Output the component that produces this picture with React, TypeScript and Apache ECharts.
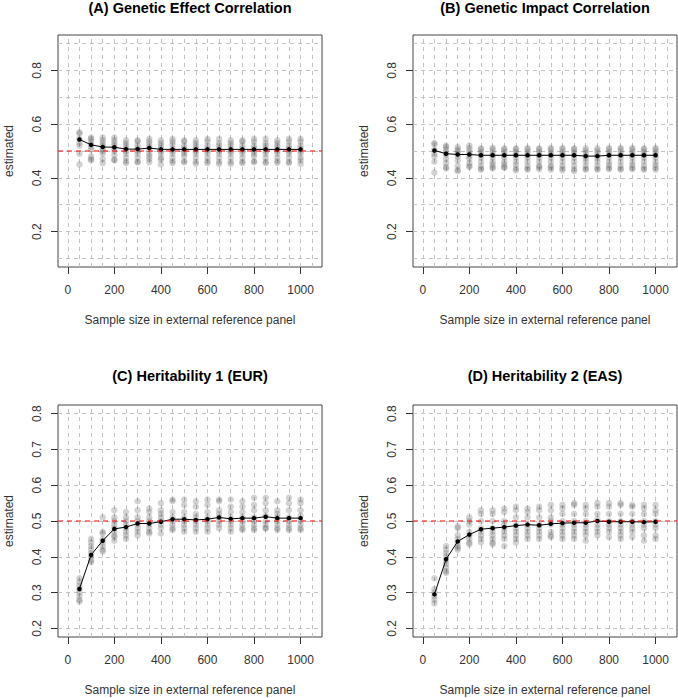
import React, { useEffect, useRef } from "react";
import * as echarts from "echarts";

const sampleSizes = [50, 100, 150, 200, 250, 300, 350, 400, 450, 500, 550, 600, 650, 700, 750, 800, 850, 900, 950, 1000];
const xTickLabels = [0, 200, 400, 600, 800, 1000];
const xGridLines = [0, 50, 100, 150, 200, 250, 300, 350, 400, 450, 500, 550, 600, 650, 700, 750, 800, 850, 900, 950, 1000, 1050];
const yTicksCorr = [0.2, 0.4, 0.6, 0.8];
const yGridCorr = [0.1, 0.2, 0.3, 0.4, 0.5, 0.6, 0.7, 0.8, 0.9];
const yTicksHer = [0.2, 0.3, 0.4, 0.5, 0.6, 0.7, 0.8];
const yGridHer = [0.2, 0.3, 0.4, 0.5, 0.6, 0.7, 0.8];
const panelTitles = [
  "(A) Genetic Effect Correlation",
  "(B) Genetic Impact Correlation",
  "(C) Heritability 1 (EUR)",
  "(D) Heritability 2 (EAS)",
];
const trueValues = [0.5, null, 0.5, 0.5];

const meanA = [0.543, 0.523, 0.515, 0.514, 0.507, 0.507, 0.511, 0.506, 0.506, 0.506, 0.506, 0.506, 0.506, 0.506, 0.506, 0.506, 0.506, 0.506, 0.506, 0.506];
const repsA = [
  [0.57, 0.565, 0.545, 0.53, 0.52, 0.49, 0.45],
  [0.55, 0.545, 0.535, 0.525, 0.515, 0.505, 0.48, 0.47, 0.465],
  [0.55, 0.54, 0.53, 0.52, 0.51, 0.5, 0.49, 0.47, 0.455],
  [0.55, 0.54, 0.53, 0.52, 0.51, 0.5, 0.485, 0.468, 0.465],
  [0.54, 0.53, 0.52, 0.51, 0.5, 0.49, 0.475, 0.462, 0.455],
  [0.54, 0.535, 0.52, 0.51, 0.5, 0.49, 0.475, 0.46, 0.458],
  [0.545, 0.535, 0.525, 0.515, 0.505, 0.49, 0.48, 0.47, 0.458],
  [0.54, 0.53, 0.52, 0.51, 0.5, 0.49, 0.475, 0.468, 0.45],
  [0.545, 0.535, 0.525, 0.51, 0.5, 0.49, 0.475, 0.462, 0.455],
  [0.54, 0.535, 0.52, 0.51, 0.5, 0.49, 0.48, 0.462, 0.458],
  [0.54, 0.53, 0.52, 0.51, 0.5, 0.49, 0.475, 0.46, 0.452],
  [0.545, 0.535, 0.52, 0.51, 0.5, 0.49, 0.475, 0.462, 0.455],
  [0.545, 0.53, 0.52, 0.51, 0.5, 0.49, 0.475, 0.46, 0.452],
  [0.54, 0.53, 0.52, 0.51, 0.5, 0.49, 0.475, 0.46, 0.452],
  [0.54, 0.535, 0.52, 0.51, 0.5, 0.49, 0.475, 0.46, 0.455],
  [0.545, 0.535, 0.52, 0.51, 0.5, 0.49, 0.48, 0.462, 0.458],
  [0.545, 0.53, 0.52, 0.51, 0.5, 0.49, 0.475, 0.46, 0.455],
  [0.54, 0.53, 0.52, 0.51, 0.5, 0.49, 0.475, 0.462, 0.456],
  [0.545, 0.535, 0.52, 0.51, 0.5, 0.49, 0.475, 0.46, 0.455],
  [0.545, 0.535, 0.52, 0.51, 0.5, 0.49, 0.475, 0.465, 0.452],
];

const meanB = [0.502, 0.49, 0.487, 0.487, 0.484, 0.484, 0.484, 0.484, 0.484, 0.484, 0.484, 0.484, 0.484, 0.481, 0.481, 0.484, 0.484, 0.484, 0.484, 0.484];
const repsB = [
  [0.53, 0.525, 0.505, 0.49, 0.48, 0.46, 0.42],
  [0.52, 0.515, 0.505, 0.495, 0.485, 0.47, 0.455, 0.44, 0.435],
  [0.515, 0.505, 0.5, 0.49, 0.48, 0.465, 0.445, 0.43, 0.425],
  [0.52, 0.51, 0.5, 0.49, 0.48, 0.47, 0.455, 0.445, 0.44],
  [0.51, 0.505, 0.495, 0.485, 0.475, 0.46, 0.445, 0.435, 0.43],
  [0.512, 0.505, 0.495, 0.485, 0.475, 0.46, 0.45, 0.44, 0.435],
  [0.51, 0.505, 0.495, 0.485, 0.475, 0.46, 0.45, 0.44, 0.438],
  [0.51, 0.505, 0.495, 0.485, 0.475, 0.46, 0.448, 0.435, 0.428],
  [0.512, 0.505, 0.495, 0.485, 0.475, 0.46, 0.445, 0.435, 0.43],
  [0.51, 0.505, 0.495, 0.485, 0.475, 0.46, 0.445, 0.44, 0.432],
  [0.512, 0.505, 0.495, 0.485, 0.475, 0.46, 0.445, 0.438, 0.43],
  [0.512, 0.505, 0.495, 0.485, 0.475, 0.46, 0.445, 0.435, 0.428],
  [0.51, 0.505, 0.495, 0.485, 0.475, 0.46, 0.445, 0.432, 0.425],
  [0.51, 0.502, 0.492, 0.482, 0.472, 0.46, 0.445, 0.435, 0.43],
  [0.51, 0.502, 0.492, 0.482, 0.472, 0.46, 0.445, 0.435, 0.43],
  [0.512, 0.505, 0.495, 0.485, 0.475, 0.46, 0.448, 0.438, 0.432],
  [0.512, 0.505, 0.495, 0.485, 0.475, 0.46, 0.445, 0.435, 0.43],
  [0.512, 0.505, 0.495, 0.485, 0.475, 0.46, 0.448, 0.438, 0.432],
  [0.51, 0.505, 0.495, 0.485, 0.475, 0.46, 0.445, 0.435, 0.43],
  [0.512, 0.505, 0.495, 0.485, 0.475, 0.46, 0.448, 0.438, 0.43],
];

const meanC = [0.31, 0.405, 0.445, 0.478, 0.483, 0.493, 0.493, 0.498, 0.505, 0.505, 0.503, 0.505, 0.51, 0.506, 0.508, 0.508, 0.512, 0.508, 0.508, 0.508];
const repsC = [
  [0.34, 0.33, 0.32, 0.31, 0.3, 0.29, 0.28, 0.275],
  [0.45, 0.44, 0.43, 0.42, 0.41, 0.4, 0.39, 0.385],
  [0.51, 0.47, 0.465, 0.45, 0.44, 0.43, 0.42, 0.415],
  [0.53, 0.51, 0.5, 0.49, 0.48, 0.47, 0.46, 0.455, 0.445],
  [0.525, 0.51, 0.5, 0.49, 0.48, 0.47, 0.46, 0.45],
  [0.555, 0.53, 0.51, 0.5, 0.49, 0.48, 0.47, 0.46],
  [0.535, 0.525, 0.51, 0.5, 0.49, 0.48, 0.47, 0.465],
  [0.55, 0.53, 0.52, 0.51, 0.5, 0.49, 0.48, 0.465],
  [0.56, 0.555, 0.525, 0.51, 0.5, 0.49, 0.48, 0.475],
  [0.56, 0.545, 0.525, 0.51, 0.5, 0.49, 0.48, 0.47],
  [0.555, 0.54, 0.52, 0.51, 0.5, 0.49, 0.48, 0.47],
  [0.56, 0.545, 0.525, 0.51, 0.5, 0.49, 0.48, 0.47],
  [0.56, 0.555, 0.53, 0.52, 0.51, 0.5, 0.49, 0.48],
  [0.56, 0.54, 0.525, 0.51, 0.5, 0.49, 0.48, 0.47],
  [0.555, 0.54, 0.525, 0.51, 0.5, 0.49, 0.48, 0.475],
  [0.565, 0.545, 0.53, 0.51, 0.5, 0.49, 0.48, 0.475],
  [0.565, 0.55, 0.53, 0.515, 0.5, 0.49, 0.48, 0.48],
  [0.555, 0.53, 0.52, 0.51, 0.5, 0.49, 0.48, 0.475],
  [0.565, 0.55, 0.53, 0.51, 0.5, 0.49, 0.48, 0.475],
  [0.56, 0.55, 0.53, 0.515, 0.5, 0.49, 0.48, 0.475],
];

const meanD = [0.295, 0.393, 0.443, 0.462, 0.477, 0.48, 0.483, 0.487, 0.49, 0.488, 0.492, 0.494, 0.495, 0.495, 0.5, 0.498, 0.498, 0.498, 0.497, 0.498];
const repsD = [
  [0.34, 0.31, 0.3, 0.29, 0.28, 0.27],
  [0.43, 0.42, 0.41, 0.4, 0.39, 0.38, 0.37, 0.36, 0.355],
  [0.485, 0.48, 0.46, 0.45, 0.44, 0.43, 0.425, 0.42],
  [0.51, 0.5, 0.49, 0.47, 0.46, 0.45, 0.44, 0.435],
  [0.53, 0.52, 0.5, 0.48, 0.47, 0.46, 0.45, 0.44],
  [0.53, 0.52, 0.5, 0.48, 0.47, 0.46, 0.45, 0.44, 0.435],
  [0.535, 0.525, 0.5, 0.49, 0.48, 0.47, 0.46, 0.45, 0.43],
  [0.54, 0.53, 0.51, 0.49, 0.48, 0.47, 0.46, 0.45, 0.44],
  [0.535, 0.525, 0.51, 0.49, 0.48, 0.47, 0.46, 0.45],
  [0.54, 0.53, 0.51, 0.49, 0.48, 0.47, 0.46, 0.45],
  [0.545, 0.53, 0.51, 0.5, 0.49, 0.47, 0.46, 0.455],
  [0.545, 0.535, 0.52, 0.5, 0.49, 0.48, 0.47, 0.46, 0.45],
  [0.55, 0.545, 0.52, 0.5, 0.49, 0.48, 0.47, 0.46, 0.45],
  [0.545, 0.535, 0.52, 0.5, 0.49, 0.48, 0.47, 0.46, 0.445],
  [0.55, 0.54, 0.52, 0.505, 0.49, 0.48, 0.47, 0.46],
  [0.55, 0.54, 0.52, 0.5, 0.49, 0.48, 0.47, 0.455],
  [0.55, 0.545, 0.52, 0.5, 0.49, 0.48, 0.47, 0.46, 0.45],
  [0.545, 0.54, 0.52, 0.5, 0.49, 0.48, 0.47, 0.455],
  [0.545, 0.535, 0.52, 0.5, 0.49, 0.48, 0.46, 0.445],
  [0.545, 0.53, 0.52, 0.5, 0.49, 0.48, 0.46, 0.45],
];

const FONT = "'Liberation Sans', Arial, Helvetica, sans-serif";
const X_MIN = -42;
const X_MAX = 1092;

export default function App() {
  const ref = useRef<HTMLDivElement>(null);

  useEffect(() => {
    if (!ref.current) return;
    const chart = echarts.init(ref.current, undefined, { renderer: "svg" });

    const panels = [
      { mean: meanA, reps: repsA, yMin: 0.068, yMax: 0.932, yTicks: yTicksCorr, yGrid: yGridCorr, left: 58, top: 35, height: 232, titleTop: 0 },
      { mean: meanB, reps: repsB, yMin: 0.068, yMax: 0.932, yTicks: yTicksCorr, yGrid: yGridCorr, left: 413, top: 35, height: 232, titleTop: 0 },
      { mean: meanC, reps: repsC, yMin: 0.176, yMax: 0.824, yTicks: yTicksHer, yGrid: yGridHer, left: 58, top: 405, height: 232, titleTop: 368 },
      { mean: meanD, reps: repsD, yMin: 0.176, yMax: 0.824, yTicks: yTicksHer, yGrid: yGridHer, left: 413, top: 405, height: 232, titleTop: 368 },
    ];
    const W = 264;

    const grid: any[] = [];
    const xAxis: any[] = [];
    const yAxis: any[] = [];
    const series: any[] = [];
    const title: any[] = [];

    panels.forEach((p, i) => {
      grid.push({
        left: p.left, top: p.top, width: W, height: p.height,
        show: true, borderColor: "#444", borderWidth: 1, backgroundColor: "transparent",
      });
      title.push({
        text: panelTitles[i],
        left: p.left + W / 2,
        top: p.titleTop,
        textAlign: "center",
        padding: 0,
        textStyle: { fontFamily: FONT, fontSize: 14.5, fontWeight: "bold", color: "#000" },
      });
      xAxis.push({
        type: "value", gridIndex: i, min: X_MIN, max: X_MAX,
        splitLine: { show: false },
        axisLine: { show: false, onZero: false },
        axisTick: { show: true, customValues: xTickLabels, length: 7, lineStyle: { color: "#333", width: 1 } },
        axisLabel: {
          customValues: xTickLabels, margin: 17, color: "#333", fontSize: 12, fontFamily: FONT,
          formatter: (v: number) => String(v),
        },
        name: "Sample size in external reference panel",
        nameLocation: "middle",
        nameGap: 47,
        nameMoveOverlap: false,
        nameTextStyle: { fontFamily: FONT, fontSize: 12, color: "#333" },
      });
      yAxis.push({
        type: "value", gridIndex: i, min: p.yMin, max: p.yMax,
        splitLine: { show: false },
        axisLine: { show: false, onZero: false },
        axisTick: { show: true, customValues: p.yTicks, length: 7, lineStyle: { color: "#333", width: 1 } },
        axisLabel: { show: false },
        name: "estimated",
        nameLocation: "middle",
        nameGap: 43,
        nameMoveOverlap: false,
        nameTextStyle: { fontFamily: FONT, fontSize: 12, color: "#333" },
      });

      series.push({
        type: "scatter", xAxisIndex: i, yAxisIndex: i, data: [], silent: true, z: 1,
        markLine: {
          z: 0,
          silent: true, symbol: ["none", "none"], label: { show: false },
          lineStyle: { type: [4, 4], color: "#c2c2c2", width: 1 },
          emphasis: { disabled: true },
          data: [
            ...xGridLines.map((v) => ({ xAxis: v })),
            ...p.yGrid.map((v) => ({ yAxis: v })),
          ],
        },
      });

      series.push({
        type: "scatter", xAxisIndex: i, yAxisIndex: i, silent: true, z: 2,
        symbol: "circle", symbolSize: 6.5,
        itemStyle: { color: "rgba(70,70,70,0.3)" },
        data: p.reps.flatMap((arr, j) => arr.map((y) => [sampleSizes[j], y])),
      });

      series.push({
        type: "line", xAxisIndex: i, yAxisIndex: i, silent: true, z: 4,
        symbol: "circle", symbolSize: 4.5,
        lineStyle: { color: "#000", width: 1 },
        itemStyle: { color: "#000" },
        data: sampleSizes.map((x, j) => [x, p.mean[j]]),
      });

      const tv = trueValues[i];
      if (tv !== null) {
        series.push({
          type: "line", xAxisIndex: i, yAxisIndex: i, silent: true, z: 5,
          symbol: "none",
          lineStyle: { type: [5, 4], color: "#ff0000", width: 1.2 },
          data: [[X_MIN, tv], [X_MAX, tv]],
        });
      }
    });

    chart.setOption({
      animation: false,
      backgroundColor: "#fff",
      title,
      grid,
      xAxis,
      yAxis,
      series,
    });

    // Rotated y tick labels (R style, parallel to the axis), placed via the axis scale
    const graphic: any[] = [];
    panels.forEach((p, i) => {
      p.yTicks.forEach((v) => {
        const py = chart.convertToPixel({ yAxisIndex: i } as any, v) as unknown as number;
        graphic.push({
          type: "text",
          x: p.left - 15,
          y: py,
          rotation: Math.PI / 2,
          silent: true,
          style: {
            text: v.toFixed(1),
            align: "center",
            verticalAlign: "bottom",
            fill: "#333",
            font: `12px ${FONT}`,
          },
        });
      });
    });
    chart.setOption({ graphic });

    return () => chart.dispose();
  }, []);

  return (
    <div
      ref={ref}
      style={{ position: "absolute", left: 0, top: 0, width: 678, height: 698 }}
    />
  );
}
